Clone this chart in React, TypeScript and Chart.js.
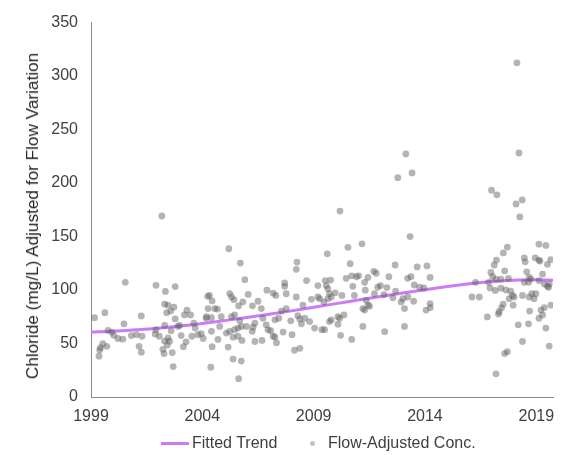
import React, { useEffect, useRef } from "react";
import { Chart, registerables } from "chart.js";

Chart.register(...registerables);

// Flow-adjusted chloride samples (decimal year, mg/L)
const sampleYears = [
  2002.18, 1999.16, 1999.62, 2000.54, 2000.48, 1999.76, 1999.93, 2000.02, 2000.21, 2000.43,
  2000.81, 2001.04, 2001.29, 2001.26, 2001.16, 2001.26, 1999.53, 1999.71, 1999.39, 1999.43,
  1999.36, 2001.92, 2002.34, 2002.78, 2002.31, 2002.46, 2002.72, 2002.4, 2002.58, 2002.78,
  2001.92, 2001.88, 2002.07, 2002.31, 2002.9, 2002.98, 2002.6, 2002.46, 2002.53, 2002.31,
  2002.23, 2002.28, 2002.43, 2002.65, 2002.69, 2003.05, 2003.27, 2003.15, 2003.31, 2003.2,
  2003.47, 2003.62, 2003.68, 2003.53, 2003.8, 2003.95, 2004.04, 2004.24, 2004.17,
  2005.19, 2005.71, 2005.91, 2004.32, 2004.44, 2004.26, 2004.56, 2004.68, 2004.19, 2004.41,
  2004.85, 2005.31, 2005.45, 2005.68, 2005.23, 2005.31, 2005.42, 2005.63, 2005.82, 2006.06,
  2006.25, 2006.5, 2006.65, 2006.9, 2007.18, 2007.3, 2007.7, 2007.7, 2007.77, 2007.55,
  2007.77, 2008.22, 2008.25, 2008.22, 2008.68, 2008.52, 2008.9, 2009.19, 2009.27, 2009.19,
  2009.52, 2009.61, 2009.46, 2004.41, 2004.78, 2005.08, 2005.23, 2005.45, 2005.6, 2005.75,
  2005.38, 2005.6, 2005.78, 2005.98, 2006.28, 2006.24, 2006.36, 2006.68, 2006.72, 2006.87,
  2006.95, 2007.07, 2007.18, 2007.26, 2007.33, 2007.26, 2007.43, 2007.63, 2007.97, 2008.03,
  2008.29, 2008.38, 2008.45, 2008.6, 2008.82, 2009.04, 2009.37, 2008.14, 2008.38, 2004.44,
  2004.38, 2005.16, 2005.38, 2005.75, 2005.63, 2004.7, 2006.36,
  2013.14, 2012.78, 2013.42, 2010.18, 2013.33, 2010.54, 2011.17, 2010.64, 2012.66, 2013.65,
  2014.09, 2014.23, 2011.7, 2011.81, 2012.38, 2011.44, 2011.02, 2010.92, 2010.71, 2010.46,
  2011.29, 2013.22, 2013.37, 2009.76, 2009.57, 2009.64, 2009.71, 2009.79, 2009.97, 2010.27,
  2010.76, 2011.32, 2010.83, 2011.88, 2012.0, 2012.29, 2012.68, 2013.52, 2013.76, 2013.95,
  2011.73, 2012.16, 2012.56, 2013.01, 2013.23, 2013.08, 2012.93, 2013.49, 2014.23, 2014.24,
  2014.05, 2011.36, 2011.44, 2011.21, 2011.29, 2011.51, 2009.64, 2009.49, 2009.71, 2009.79,
  2010.09, 2010.17, 2010.09, 2010.36, 2010.21, 2010.71, 2011.21, 2012.19, 2013.08,
  2018.13, 2018.22, 2016.99, 2017.23, 2018.37, 2018.09, 2018.26, 2017.7, 2017.52, 2017.21,
  2017.11, 2016.96, 2017.04, 2017.58, 2016.27, 2016.86, 2017.19, 2017.41, 2017.75, 2016.92,
  2017.16, 2017.41, 2017.63, 2017.85, 2016.11, 2016.44, 2017.93, 2018.0, 2017.78, 2017.51,
  2017.44, 2017.96, 2017.33, 2017.3, 2016.8, 2018.19, 2018.38, 2017.58, 2017.7, 2017.19,
  2018.46, 2018.5, 2018.95, 2019.12, 2019.12, 2019.43, 2019.5, 2019.65, 2018.57, 2018.68,
  2018.75, 2018.46, 2018.65, 2019.28, 2019.12, 2019.36, 2019.5, 2019.58, 2018.38, 2018.68,
  2018.8, 2018.9, 2018.98, 2018.7, 2018.65, 2019.21, 2019.36, 2019.28, 2019.12, 2019.43,
  2019.58, 2019.66, 2019.55, 2019.16,
];

const sampleConc = [
  169.2, 74.2, 78.8, 107.2, 68.4, 62.3, 60.7, 57.7, 54.7, 54.1,
  57.4, 58.3, 56.8, 75.8, 47.4, 41.9, 49.8, 47.4, 44.0, 46.1,
  38.2, 104.4, 98.7, 103.2, 86.8, 85.8, 84.0, 78.8, 80.3, 73.0,
  62.9, 58.9, 56.8, 66.9, 66.0, 66.9, 62.0, 55.2, 52.2, 52.2,
  44.6, 40.6, 48.6, 41.5, 28.4, 57.4, 51.6, 47.0, 81.2, 76.7,
  76.7, 69.0, 64.4, 56.8, 58.3, 59.2, 54.7, 94.1, 73.6,
  138.6, 125.2, 109.7, 95.0, 89.8, 82.7, 82.7, 82.2, 75.1, 74.2,
  75.1, 75.1, 76.7, 71.2, 96.7, 93.5, 91.0, 85.2, 88.9, 95.9,
  85.2, 89.5, 82.7, 99.9, 97.1, 95.0, 106.6, 103.5, 96.5, 80.3,
  82.7, 93.5, 126.1, 119.4, 108.8, 85.8, 91.3, 93.5, 91.9, 104.2,
  108.8, 133.8, 88.9, 61.4, 66.0, 59.8, 61.4, 62.9, 64.4, 66.0,
  55.9, 56.8, 52.9, 66.0, 65.3, 61.4, 51.9, 52.9, 73.6, 67.5,
  62.9, 62.0, 56.8, 56.2, 50.7, 72.1, 73.6, 60.7, 71.2, 58.3,
  76.0, 73.0, 68.4, 73.6, 70.5, 64.4, 62.9, 43.7, 45.5, 47.0,
  27.8, 46.7, 35.5, 33.6, 17.1, 53.8, 69.0,
  227.2, 205.0, 209.5, 173.8, 150.0, 139.9, 143.2, 124.6, 123.4, 121.6,
  122.5, 111.8, 117.5, 115.7, 112.4, 111.8, 113.3, 112.4, 113.3, 110.9,
  107.2, 110.9, 112.4, 109.3, 104.2, 101.1, 96.5, 93.5, 97.4, 95.0,
  103.5, 99.9, 95.0, 102.6, 104.2, 102.3, 99.0, 104.7, 102.6, 102.0,
  96.5, 95.6, 92.8, 91.9, 93.5, 82.7, 88.9, 89.5, 87.3, 83.6,
  81.3, 90.4, 85.8, 82.7, 81.3, 84.9, 91.9, 62.9, 70.5, 72.1,
  75.1, 73.6, 68.1, 76.7, 57.7, 53.8, 66.0, 61.1, 66.0,
  312.4, 228.1, 193.3, 189.0, 184.2, 180.5, 168.3, 140.2, 134.7, 128.0,
  123.4, 116.4, 112.4, 117.9, 107.2, 107.2, 110.2, 110.2, 110.9, 102.0,
  99.6, 101.7, 100.1, 98.9, 93.5, 93.5, 95.0, 93.5, 91.9, 86.8,
  83.4, 85.8, 79.7, 77.6, 74.9, 67.5, 51.9, 40.6, 42.4, 21.7,
  130.1, 126.4, 130.1, 128.0, 142.9, 141.7, 124.0, 128.5, 117.0, 111.8,
  110.2, 107.2, 107.2, 114.8, 108.8, 105.6, 103.5, 105.6, 95.0, 93.5,
  96.5, 91.9, 96.5, 80.3, 68.4, 81.3, 83.6, 76.7, 73.6, 64.4,
  47.6, 85.8, 102.6, 127.1,
];

// Fitted trend (decimal year, mg/L)
const trendYears = [
  1999, 2000, 2001, 2002, 2003, 2004, 2005, 2006, 2007, 2008, 2009,
  2010, 2011, 2012, 2013, 2014, 2015, 2016, 2017, 2018, 2019, 2019.75,
];
const trendConc = [
  60.7, 61.5, 62.8, 64.3, 66.3, 68.7, 71.4, 74.3, 77.3, 80.5, 83.9,
  87.3, 90.7, 94.0, 97.2, 100.3, 103.3, 105.9, 107.9, 109.2, 109.5, 109.1,
];

const xTickValues = [1999, 2004, 2009, 2014, 2019];
const xMin = 1999;
const xMax = 2019.75;
const yMin = 0;
const yMax = 350;
const yStep = 50;

const yTitle = "Chloride (mg/L) Adjusted for Flow Variation";
const trendLabel = "Fitted Trend";
const sampleLabel = "Flow-Adjusted Conc.";

const FONT = '"Liberation Sans", Arial, Helvetica, sans-serif';
const TREND_COLOR = "rgb(204,122,245)";
const DOT_COLOR = "rgba(95,95,95,0.47)";
const AXIS_COLOR = "#898989";
const TEXT_COLOR = "#404040";

export default function App() {
  const ref = useRef<HTMLCanvasElement>(null);

  useEffect(() => {
    const canvas = ref.current;
    if (!canvas) return;
    const chart = new Chart(canvas, {
      type: "scatter",
      data: {
        datasets: [
          {
            type: "line",
            label: trendLabel,
            data: trendYears.map((x, i) => ({ x, y: trendConc[i] })),
            borderColor: TREND_COLOR,
            backgroundColor: TREND_COLOR,
            borderWidth: 3,
            pointRadius: 0,
            cubicInterpolationMode: "monotone",
            fill: false,
            order: 2,
          } as any,
          {
            type: "scatter",
            label: sampleLabel,
            data: sampleYears.map((x, i) => ({ x, y: sampleConc[i] })),
            backgroundColor: DOT_COLOR,
            borderWidth: 0,
            pointRadius: 3.4,
            order: 1,
          } as any,
        ],
      },
      options: {
        responsive: false,
        animation: false,
        events: [],
        layout: { padding: { top: 15, right: 15, left: 0, bottom: 0 } },
        plugins: {
          legend: { display: false },
          tooltip: { enabled: false },
        },
        scales: {
          x: {
            type: "linear",
            min: xMin,
            max: xMax,
            afterBuildTicks: (scale: any) => {
              scale.ticks = xTickValues.map((v) => ({ value: v }));
            },
            afterFit: (scale: any) => {
              scale.height = 58;
            },
            grid: { display: false, drawTicks: false, tickLength: 0 },
            border: { display: true, color: AXIS_COLOR, width: 1 },
            ticks: {
              padding: 10,
              color: TEXT_COLOR,
              maxRotation: 0,
              autoSkip: false,
              font: { family: FONT, size: 16 },
              callback: (v: any) => String(v),
            },
          },
          y: {
            type: "linear",
            min: yMin,
            max: yMax,
            afterFit: (scale: any) => {
              scale.width = 91;
            },
            grid: { display: false, drawTicks: false, tickLength: 0 },
            border: { display: true, color: AXIS_COLOR, width: 1 },
            ticks: {
              stepSize: yStep,
              padding: 13,
              color: TEXT_COLOR,
              font: { family: FONT, size: 16 },
              callback: (v: any) => String(v),
            },
          },
        },
      } as any,
    });
    return () => chart.destroy();
  }, []);

  const textStyle: React.CSSProperties = {
    position: "absolute",
    top: 433,
    height: 20,
    lineHeight: "20px",
    fontFamily: FONT,
    fontSize: 16,
    color: TEXT_COLOR,
    whiteSpace: "nowrap",
  };

  return (
    <div style={{ position: "absolute", left: 0, top: 0, width: 568, height: 455, background: "#fff" }}>
      <canvas ref={ref} width={568} height={455} style={{ display: "block", width: 568, height: 455 }} />
      <span
        style={{
          position: "absolute",
          left: 31.5,
          top: 216,
          transform: "translate(-50%, -50%) rotate(-90deg)",
          fontFamily: FONT,
          fontSize: 17.2,
          lineHeight: "20px",
          color: "#262626",
          whiteSpace: "nowrap",
        }}
      >
        {yTitle}
      </span>
      <span style={{ position: "absolute", left: 161, top: 442, width: 28, height: 3, background: TREND_COLOR }} />
      <span style={{ ...textStyle, left: 192 }}>{trendLabel}</span>
      <span
        style={{
          position: "absolute",
          left: 309.5,
          top: 440.5,
          width: 5.5,
          height: 5.5,
          borderRadius: "50%",
          background: "#c2c2c2",
        }}
      />
      <span style={{ ...textStyle, left: 328 }}>{sampleLabel}</span>
    </div>
  );
}
